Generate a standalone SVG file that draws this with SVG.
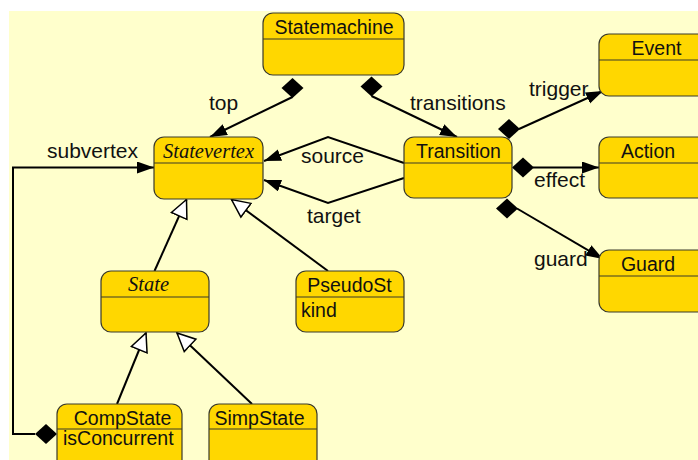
<svg xmlns="http://www.w3.org/2000/svg" width="698" height="460" viewBox="0 0 698 460">
  <defs>
    <style>
      .bg { fill: #FFFFCC; }
      .node rect { fill: #FFD700; stroke: #3a3a2a; stroke-width: 1.2; }
      .node line { stroke: #3a3a2a; stroke-width: 1.2; }
      .name { font-family: "Liberation Sans", Arial, sans-serif; font-size: 19.5px; fill: #111; text-anchor: middle; }
      .abstract { font-family: "Liberation Serif", "Times New Roman", serif; font-style: italic; font-size: 20.5px; fill: #111; text-anchor: middle; }
      .attr { font-family: "Liberation Sans", Arial, sans-serif; font-size: 19.5px; fill: #111; }
      .lbl { font-family: "Liberation Sans", Arial, sans-serif; font-size: 21px; fill: #111; }
      .edge { fill: none; stroke: #000; stroke-width: 2; }
      .assoc { marker-end: url(#arrow); }
      .gen { marker-end: url(#hollow); }
      .diamond { fill: #000; }
    </style>
    <marker id="arrow" markerUnits="userSpaceOnUse" markerWidth="18" markerHeight="14" refX="17" refY="6" orient="auto">
      <path d="M0,0 L17,6 L0,12 Z" fill="#000"/>
    </marker>
    <marker id="hollow" markerUnits="userSpaceOnUse" markerWidth="22" markerHeight="22" refX="19" refY="10" orient="auto">
      <path d="M1,1.5 L19,10 L1,18.5 Z" fill="#fff" stroke="#000" stroke-width="1.5"/>
    </marker>
    <path id="dia" d="M-11,0 L0,-10 L11,0 L0,10 Z"/>
  </defs>

  <rect class="bg" x="9" y="11" width="689" height="449"/>

  <!-- connectors -->
  <g id="connectors">
    <!-- Statemachine.top -> Statevertex -->
    <path class="edge assoc" d="M292.5,97 L210,137"/>
    <use href="#dia" class="diamond" x="292.5" y="88"/>
    <!-- Statemachine.transitions -> Transition -->
    <path class="edge assoc" d="M371.5,96 L457,137"/>
    <use href="#dia" class="diamond" x="371.5" y="86.5"/>
    <!-- Transition.source / target -> Statevertex -->
    <path class="edge assoc" d="M404,163 L328,137 L264,161"/>
    <path class="edge assoc" d="M404,178 L328,203 L264,180"/>
    <!-- CompState.subvertex -> Statevertex -->
    <path class="edge assoc" d="M35,434 L13,434 L13,167.5 L154,167.5"/>
    <use href="#dia" class="diamond" x="46" y="434"/>
    <!-- Transition.trigger -> Event -->
    <path class="edge assoc" d="M519,129 L603,91"/>
    <use href="#dia" class="diamond" x="509" y="129"/>
    <!-- Transition.effect -> Action -->
    <path class="edge assoc" d="M533,167.5 L599,167.5"/>
    <use href="#dia" class="diamond" x="523" y="167.5"/>
    <!-- Transition.guard -> Guard -->
    <path class="edge assoc" d="M517,208.5 L603,259"/>
    <use href="#dia" class="diamond" x="507" y="208.5"/>
    <!-- generalizations -->
    <path class="edge gen" d="M154.5,271 L186.5,199.5"/>
    <path class="edge gen" d="M328,271 L231.5,199.5"/>
    <path class="edge gen" d="M117,404 L146,333"/>
    <path class="edge gen" d="M252,404 L177,333"/>

    <text class="lbl" x="209" y="110">top</text>
    <text class="lbl" x="410" y="110">transitions</text>
    <text class="lbl" x="301" y="163">source</text>
    <text class="lbl" x="307" y="223">target</text>
    <text class="lbl" x="47" y="158">subvertex</text>
    <text class="lbl" x="529" y="96">trigger</text>
    <text class="lbl" x="534" y="187">effect</text>
    <text class="lbl" x="534" y="266">guard</text>
  </g>

  <!-- classes -->
  <g id="statemachine" class="node">
    <rect x="263" y="13" width="141" height="62" rx="10"/>
    <line x1="263" y1="39" x2="404" y2="39"/>
    <text class="name" x="334" y="34">Statemachine</text>
  </g>
  <g id="statevertex" class="node">
    <rect x="154" y="137" width="109" height="62" rx="10"/>
    <line x1="154" y1="163" x2="263" y2="163"/>
    <text class="abstract" x="208.5" y="158">Statevertex</text>
  </g>
  <g id="transition" class="node">
    <rect x="404" y="137" width="108" height="61" rx="10"/>
    <line x1="404" y1="163" x2="512" y2="163"/>
    <text class="name" x="458.5" y="158">Transition</text>
  </g>
  <g id="event" class="node">
    <rect x="599" y="34" width="120" height="62" rx="10"/>
    <line x1="599" y1="60" x2="719" y2="60"/>
    <text class="name" x="656.5" y="55">Event</text>
  </g>
  <g id="action" class="node">
    <rect x="599" y="137" width="120" height="61" rx="10"/>
    <line x1="599" y1="163" x2="719" y2="163"/>
    <text class="name" x="648" y="158">Action</text>
  </g>
  <g id="guard" class="node">
    <rect x="599" y="250" width="120" height="62" rx="10"/>
    <line x1="599" y1="276" x2="719" y2="276"/>
    <text class="name" x="648" y="271">Guard</text>
  </g>
  <g id="state" class="node">
    <rect x="101" y="271" width="108" height="61" rx="10"/>
    <line x1="101" y1="297" x2="209" y2="297"/>
    <text class="abstract" x="148.5" y="291">State</text>
  </g>
  <g id="pseudostate" class="node">
    <rect x="296" y="271" width="108" height="61" rx="10"/>
    <line x1="296" y1="297" x2="404" y2="297"/>
    <text class="name" x="349.5" y="292">PseudoSt</text>
    <text class="attr" x="301" y="317">kind</text>
  </g>
  <g id="compstate" class="node">
    <rect x="57" y="404" width="125" height="70" rx="10"/>
    <line x1="57" y1="429" x2="182" y2="429"/>
    <text class="name" x="122.5" y="425">CompState</text>
    <text class="attr" x="63" y="445">isConcurrent</text>
  </g>
  <g id="simpstate" class="node">
    <rect x="209" y="404" width="108" height="70" rx="10"/>
    <line x1="209" y1="429" x2="317" y2="429"/>
    <text class="name" x="259.5" y="425">SimpState</text>
  </g>
</svg>
